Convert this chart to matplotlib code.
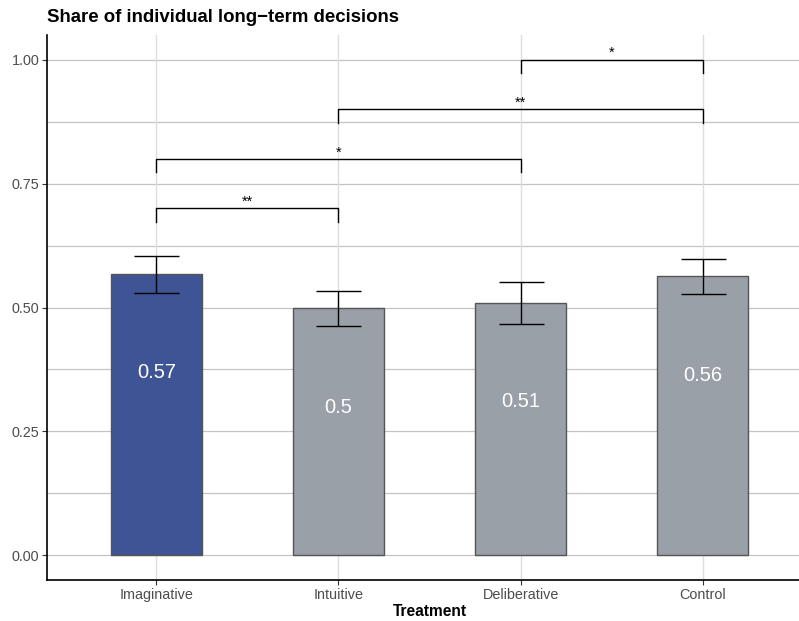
"""
Bar chart: share of individual long-term decisions by treatment.
"""

import numpy as np
import matplotlib
matplotlib.use("Agg")
import matplotlib.pyplot as plt

# data
treatments = ["Imaginative", "Intuitive", "Deliberative", "Control"]
share = np.array([0.568, 0.498, 0.510, 0.563])
ci_low = np.array([0.529, 0.462, 0.466, 0.527])
ci_high = np.array([0.604, 0.533, 0.552, 0.598])

# significance brackets: (left group, right group, height, label)
sig_left = [0, 0, 1, 2]
sig_right = [1, 2, 3, 3]
sig_height = [0.70, 0.80, 0.90, 1.00]
sig_label = ["**", "*", "**", "*"]

BLUE = "#3e5494"
GREY = "#9aa0a8"

plt.rcParams["font.family"] = ["Liberation Sans", "DejaVu Sans"]

fig = plt.figure(figsize=(7.99, 6.21), dpi=100)
# panel runs past the right edge, as in the reference
ax = fig.add_axes([47 / 799, 41 / 621, 765 / 799, 545 / 621])

x = np.arange(1, len(treatments) + 1)
colors = [BLUE] + [GREY] * (len(treatments) - 1)

# grid
for yv in np.arange(0, 1.01, 0.125):
    ax.axhline(yv, color="#c4c4c4", lw=0.9, zorder=0)
for xv in x:
    ax.axvline(xv, color="#dedede", lw=1.0, zorder=0)

ax.bar(x, share, width=0.5, color=colors, edgecolor="#555555", linewidth=1.0, zorder=2)
ax.errorbar(x, share, yerr=[share - ci_low, ci_high - share], fmt="none",
            ecolor="black", elinewidth=1.0, capsize=16.2, capthick=1.0, zorder=3)

for xi, v in zip(x, share):
    ax.text(xi, v - 0.2, f"{round(v, 2):g}", color="white", fontsize=14.5,
            ha="center", va="center", zorder=4)

tip = 0.027
for l, r, h, lab in zip(sig_left, sig_right, sig_height, sig_label):
    x0, x1 = x[l], x[r]
    ax.plot([x0, x0, x1, x1], [h - tip, h, h, h - tip], color="black", lw=1.0, zorder=3)
    ax.text((x0 + x1) / 2, h - 0.001, lab, ha="center", va="bottom", fontsize=10.5, zorder=4)

ax.set_xlim(0.4, 4.6)
ax.set_ylim(-0.05, 1.05)
ax.set_xticks(x)
ax.set_xticklabels(treatments)
ax.set_yticks([0, 0.25, 0.5, 0.75, 1.0])
ax.set_yticklabels([f"{t:.2f}" for t in [0, 0.25, 0.5, 0.75, 1.0]])
ax.tick_params(axis="both", labelsize=10.4, labelcolor="#4d4d4d", color="#333333",
               length=3.5, width=0.8, pad=2)

for side in ["top", "right"]:
    ax.spines[side].set_visible(False)
for side in ["left", "bottom"]:
    ax.spines[side].set_color("black")
    ax.spines[side].set_linewidth(1.2)

ax.set_xlabel("Treatment", fontsize=11.2, fontweight="bold", labelpad=2)
fig.text(47 / 799, 1 - 17 / 621, "Share of individual long\u2212term decisions",
         fontsize=13.4, fontweight="bold", ha="left", va="center")

fig.savefig("out.png", dpi=100)
